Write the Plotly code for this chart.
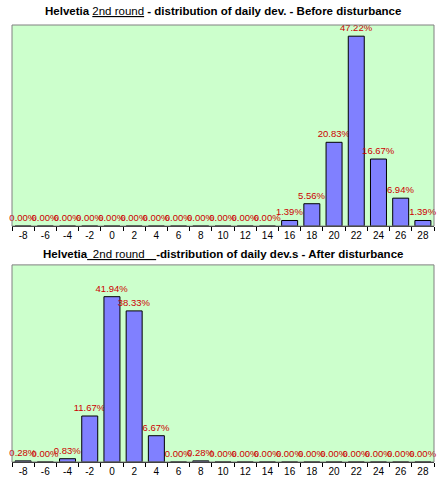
import plotly.graph_objects as go
from plotly.subplots import make_subplots

categories = ["-8", "-6", "-4", "-2", "0", "2", "4", "6", "8", "10", "12", "14",
              "16", "18", "20", "22", "24", "26", "28"]
before_values = [0.00, 0.00, 0.00, 0.00, 0.00, 0.00, 0.00, 0.00, 0.00, 0.00, 0.00, 0.00,
                 1.39, 5.56, 20.83, 47.22, 16.67, 6.94, 1.39]
after_values = [0.28, 0.00, 0.83, 11.67, 41.94, 38.33, 6.67, 0.00, 0.28, 0.00, 0.00, 0.00,
                0.00, 0.00, 0.00, 0.00, 0.00, 0.00, 0.00]
title_before = ("<b>Helvetia </b><u>2nd round</u>"
                "<b> - distribution of daily dev. - Before disturbance</b>")
title_after = ("<b>Helvetia</b><u>\u20022nd round\u2002\u2002</u>"
               "<b>-distribution of daily dev.s - After disturbance</b>")

W, H = 444, 487
mt, mb, ml, mr = 25, 23, 12, 10
ph = H - mt - mb

fig = make_subplots(rows=2, cols=1)

for row, vals in ((1, before_values), (2, after_values)):
    fig.add_trace(go.Bar(
        x=categories, y=vals,
        marker=dict(color="#8080FF", line=dict(color="black", width=1)),
        text=[f"{v:.2f}%" for v in vals],
        textposition="outside",
        constraintext="none",
        cliponaxis=False,
        textfont=dict(family="Liberation Sans, Arial", size=9.5, color="#CC0000"),
        showlegend=False,
    ), row=row, col=1)

fig.update_layout(
    width=W, height=H,
    margin=dict(l=ml, r=mr, t=mt, b=mb),
    paper_bgcolor="white",
    plot_bgcolor="#CCFFCC",
    bargap=0.28,
    font=dict(family="Liberation Sans, Arial", size=10, color="black"),
    yaxis=dict(domain=[1 - 202 / ph, 1.0]),
    yaxis2=dict(domain=[0.0, (464 - 266) / ph]),
)
fig.update_yaxes(range=[0, 50], showticklabels=False, ticks="", showgrid=False,
                 zeroline=False, showline=False, fixedrange=True)
fig.update_xaxes(type="category", tickson="boundaries", ticks="outside", ticklen=4,
                 tickcolor="black", tickwidth=1, showline=True, linecolor="black",
                 linewidth=1, showgrid=False,
                 tickfont=dict(family="Liberation Sans, Arial", size=10, color="black"))

for axref in ("x", "x2"):
    yref = "y" if axref == "x" else "y2"
    fig.add_shape(type="rect", xref=f"{axref} domain", yref=f"{yref} domain",
                  x0=0, x1=1, y0=0, y1=1, line=dict(color="#808080", width=1),
                  fillcolor="rgba(0,0,0,0)", layer="above")

fig.add_annotation(text=title_before, xref="paper", yref="paper",
                   x=0.5, y=1 + 14 / ph, xanchor="center", yanchor="middle",
                   showarrow=False,
                   font=dict(family="Liberation Sans, Arial", size=11.5, color="black"))
fig.add_annotation(text=title_after, xref="paper", yref="paper",
                   x=0.5, y=(464 - 255) / ph, xanchor="center", yanchor="middle",
                   showarrow=False,
                   font=dict(family="Liberation Sans, Arial", size=11.5, color="black"))

fig.write_html("out.html", config={"displayModeBar": False},
               post_script="document.body.style.margin='0';")
